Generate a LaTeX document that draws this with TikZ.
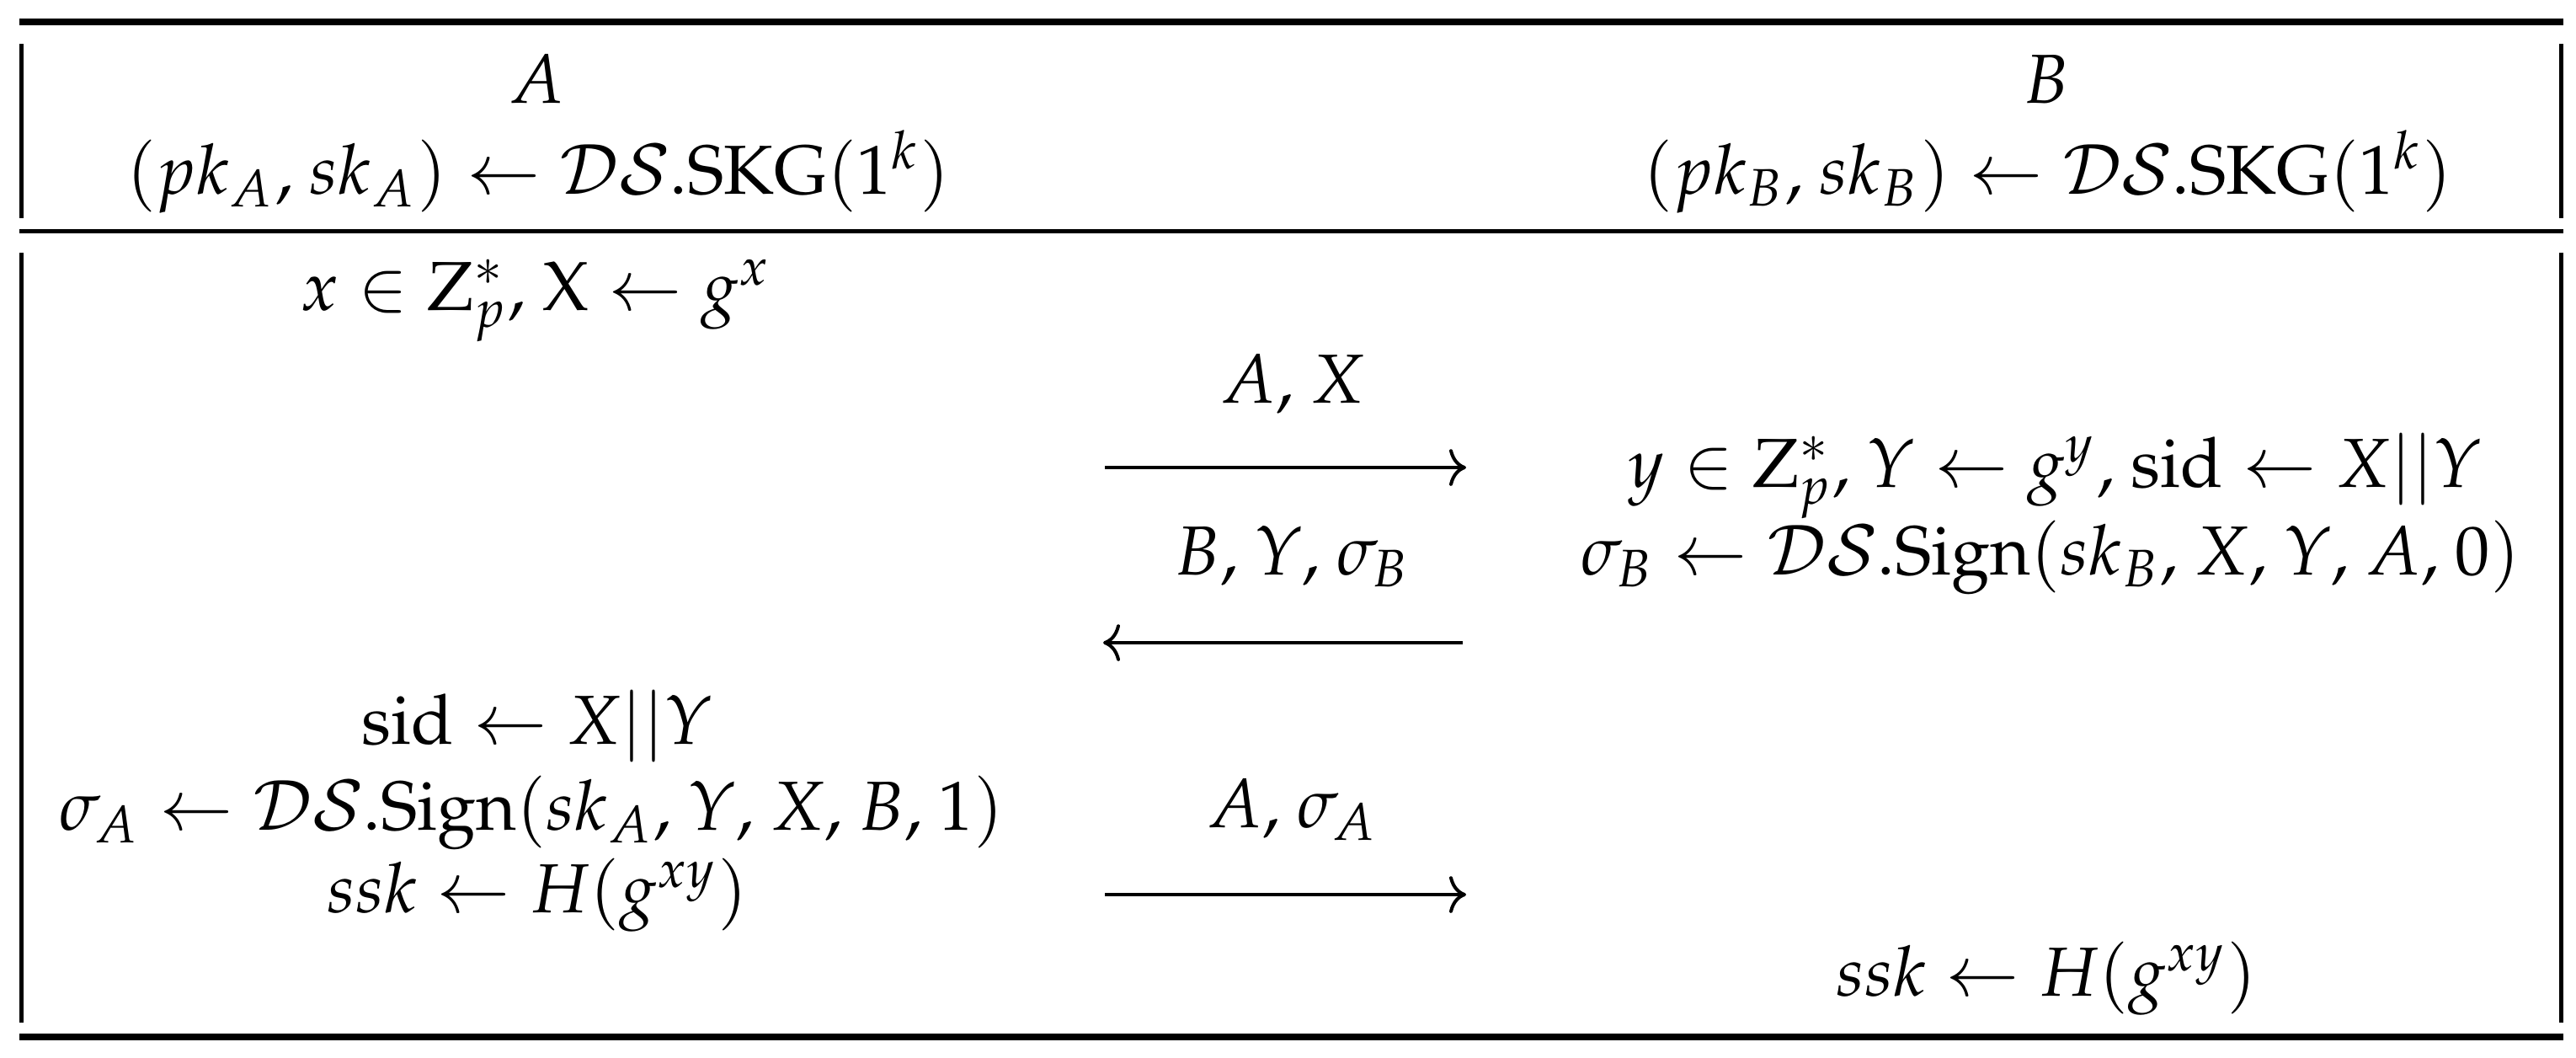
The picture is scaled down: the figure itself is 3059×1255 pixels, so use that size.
\documentclass[tikz,border=0pt]{standalone}
\usepackage{mathpazo}
\usetikzlibrary{arrows.meta}
\newcommand\cmsep{,\mkern1.4mu}
\begin{document}
\begin{tikzpicture}[x=0.12136pt,y=-0.12136pt,
  txt/.style={anchor=base,inner sep=0pt,outer sep=0pt,font=\fontsize{10}{12}\selectfont},
  heavyrule/.style={line width=0.971pt},
  lightrule/.style={line width=0.607pt},
  sidebar/.style={line width=0.607pt},
  msg/.style={line width=0.485pt,-{To[length=2.43pt,width=5.3pt]}},
]
\useasboundingbox (0,0) rectangle (3059,1255);
% rules
\draw[heavyrule] (23,26) -- (3044,26);
\draw[lightrule] (23,274.5) -- (3044,274.5);
\draw[heavyrule] (23,1231) -- (3044,1231);
\draw[sidebar] (25.5,52) -- (25.5,259);
\draw[sidebar] (25.5,300) -- (25.5,1214);
\draw[sidebar] (3041.5,52) -- (3041.5,259);
\draw[sidebar] (3041.5,300) -- (3041.5,1214);
% header
\node[txt] (hA) at (637,122) {$A$};
\node[txt] (hB) at (2430,122) {$B$};
\node[txt] (kA) at (639,230) {$(pk_A\cmsep sk_A) \leftarrow \mathcal{DS}.\mathrm{SKG}(1^k)$};
\node[txt] (kB) at (2432,230) {$(pk_B\cmsep sk_B) \leftarrow \mathcal{DS}.\mathrm{SKG}(1^k)$};
% body
\node[txt] (a1) at (637,368) {$x \in \mathrm{Z}_p^*\cmsep \mathrm{X} \leftarrow g^x$};
\node[txt] (m1) at (1535,478) {$A\cmsep X$};
\node[txt] (b1) at (2440,578) {$y \in \mathrm{Z}_p^*\cmsep Y \leftarrow g^y\cmsep \mathrm{sid} \leftarrow X||Y$};
\node[txt] (m2) at (1535,682) {$B\cmsep Y\cmsep \sigma_B$};
\node[txt] (b2) at (2435,682) {$\sigma_B \leftarrow \mathcal{DS}.\mathrm{Sign}(sk_B\cmsep X\cmsep Y\cmsep A\cmsep 0)$};
\node[txt] (a2) at (638,883) {$\mathrm{sid} \leftarrow X||Y$};
\node[txt] (a3) at (631,985) {$\sigma_A \leftarrow \mathcal{DS}.\mathrm{Sign}(sk_A\cmsep Y\cmsep X\cmsep B\cmsep 1)$};
\node[txt] (m3) at (1535,982) {$A\cmsep \sigma_A$};
\node[txt] (a4) at (638,1083) {$ssk \leftarrow H(g^{xy})$};
\node[txt] (b3) at (2430,1182) {$ssk \leftarrow H(g^{xy})$};
% message arrows
\coordinate (r1s) at (1312,555);
\coordinate (r1e) at (1741,555);
\coordinate (l1s) at (1737,763);
\coordinate (l1e) at (1310,763);
\coordinate (r2s) at (1312,1062);
\coordinate (r2e) at (1741,1062);
\draw[msg] (r1s) -- (r1e);
\draw[msg] (l1s) -- (l1e);
\draw[msg] (r2s) -- (r2e);
\end{tikzpicture}
\end{document}
